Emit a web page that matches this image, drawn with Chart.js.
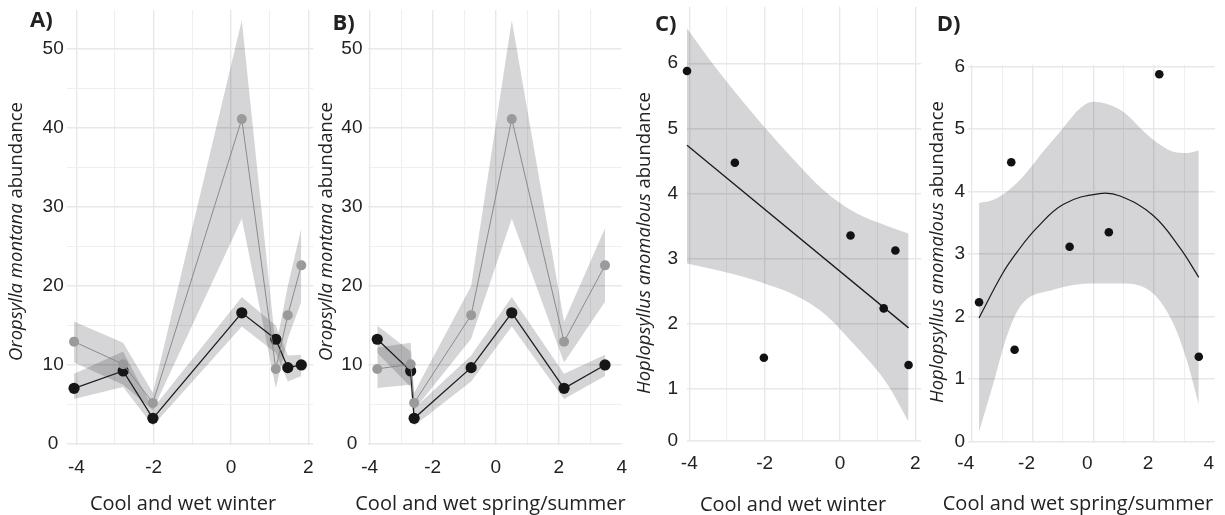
<!DOCTYPE html>
<html>
<head>
<meta charset="utf-8">
<script src="https://cdn.jsdelivr.net/npm/chart.js@4.4.0/dist/chart.umd.min.js"></script>
<style>
html, body { margin: 0; padding: 0; background: #ffffff; }
#wrap { position: relative; width: 1225px; height: 515px; overflow: hidden; background: #ffffff; }
#wrap canvas { position: absolute; left: 0; top: 0; }
</style>
</head>
<body>
<div id="wrap">
  <canvas id="chartA" width="1225" height="515"></canvas>
  <canvas id="chartB" width="1225" height="515"></canvas>
  <canvas id="chartC" width="1225" height="515"></canvas>
  <canvas id="chartD" width="1225" height="515"></canvas>
</div>
<script>
// ---------- data (one entry per site) ----------
const winterX = [-4.06, -2.79, -2.02, 0.28, 1.16, 1.47, 1.82];
const springX = [2.17, -2.70, -2.59, 0.51, -3.76, -0.78, 3.47];

const darkY  = [7.05, 9.24, 3.25, 16.6, 13.25, 9.66, 10.0];
const darkLo = [5.7, 7.2, 2.3, 14.85, 11.5, 7.9, 8.6];
const darkHi = [8.9, 11.7, 4.5, 18.6, 15.0, 11.2, 11.3];

const lightY  = [12.95, 10.1, 5.2, 41.1, 9.5, 16.3, 22.6];
const lightLo = [10.3, 7.5, 4.3, 28.5, 7.1, 13.3, 18.0];
const lightHi = [15.5, 12.8, 6.5, 53.6, 12.2, 20.0, 27.3];

const hoploY = [5.88, 4.47, 1.47, 3.35, 2.23, 3.12, 1.36];

// panel C fitted line and confidence band
const cLineX = [-4.06, 1.82];
const cLineY = [4.74, 1.93];
const cBandX  = [-4.06, -3.28, -2.30, -1.90, -1.33, -0.44, 0.35, 1.24, 1.82];
const cBandHi = [6.54, 5.92, 5.22, 4.95, 4.58, 4.05, 3.72, 3.50, 3.38];
const cBandLo = [2.92, 2.82, 2.67, 2.59, 2.47, 2.16, 1.69, 1.08, 0.49];

// panel D fitted curve and confidence band
const dLineX = [-3.76, -3.0, -2.5, -1.86, -0.98, 0.2, 0.88, 1.97, 2.85, 3.47];
const dLineY = [1.98, 2.68, 3.04, 3.42, 3.80, 3.97, 3.93, 3.62, 3.10, 2.63];
const dBandX  = [-3.76, -3.29, -2.85, -2.41, -1.32, 0, 0.88, 1.97, 2.63, 3.07, 3.47];
const dBandHi = [3.82, 3.87, 4.00, 4.19, 4.83, 5.44, 5.31, 4.83, 4.64, 4.62, 4.66];
const dBandLo = [0.16, 0.93, 1.68, 2.16, 2.43, 2.53, 2.53, 2.37, 1.89, 1.31, 0.59];

// ---------- ticks ----------
const oroYTickValues = [0, 10, 20, 30, 40, 50];
const oroYTickLabels = ['0', '10', '20', '30', '40', '50'];
const oroYMinorValues = [5, 15, 25, 35, 45];

const winterTickValues = [-4, -2, 0, 2];
const winterTickLabels = ['-4', '-2', '0', '2'];
const winterMinorValues = [-3, -1, 1];

const springTickValues = [-4, -2, 0, 2, 4];
const springTickLabels = ['-4', '-2', '0', '2', '4'];
const springMinorValues = [-3, -1, 1, 3];

// panel C prints its "0" label at the lower edge of the panel
const cYTickValues = [0.19, 1, 2, 3, 4, 5, 6];
const dYTickValues = [0, 1, 2, 3, 4, 5, 6];
const hoploYTickLabels = ['0', '1', '2', '3', '4', '5', '6'];

// ---------- helpers ----------
const TICK_FONT = { family: '"Liberation Sans", Arial, sans-serif', size: 19 };
const TEXT_COLOR = '#222222';
const BAND = 'rgba(0,0,10,0.165)';

function pts(xs, ys) {
  return xs.map((x, i) => ({ x: x, y: ys[i] })).sort((a, b) => a.x - b.x);
}

function makeScale(o) {
  const all = o.values.concat(o.minor || []).sort((a, b) => a - b);
  return {
    type: 'linear',
    min: o.min,
    max: o.max,
    afterBuildTicks: s => { s.ticks = all.map(v => ({ value: v })); },
    afterFit: s => {
      if (o.axis === 'x') { s.height = o.size; s.paddingLeft = 0; s.paddingRight = 0; }
      else { s.width = o.size; s.paddingTop = 0; s.paddingBottom = 0; }
    },
    grid: {
      drawTicks: false,
      color: c => {
        const v = c.tick ? c.tick.value : null;
        if (o.hide && o.hide.indexOf(v) >= 0) return 'rgba(0,0,0,0)';
        return o.values.indexOf(v) >= 0 ? '#e8e8e8' : '#efefef';
      },
      lineWidth: c => {
        const v = c.tick ? c.tick.value : null;
        return o.values.indexOf(v) >= 0 ? 1.4 : 1.1;
      }
    },
    border: { display: false },
    ticks: {
      autoSkip: false,
      maxRotation: 0,
      minRotation: 0,
      padding: o.padding,
      color: TEXT_COLOR,
      font: TICK_FONT,
      crossAlign: o.axis === 'y' ? 'center' : 'near',
      labelOffset: o.labelOffset || 0,
      callback: v => {
        const i = o.values.indexOf(v);
        return i >= 0 ? o.labels[i] : '';
      }
    }
  };
}

function lineSet(data, color, lineColor, lineWidth, radius, order, showLine, smooth) {
  return {
    data: data,
    showLine: showLine,
    borderColor: lineColor,
    borderWidth: lineWidth,
    backgroundColor: color,
    pointRadius: radius,
    pointBackgroundColor: color,
    pointBorderColor: color,
    pointBorderWidth: 0,
    fill: false,
    tension: smooth ? 0.4 : 0,
    order: order,
    clip: false
  };
}

function bandSets(upper, lower, order, smooth) {
  const base = {
    showLine: true,
    borderWidth: 0,
    borderColor: 'rgba(0,0,0,0)',
    backgroundColor: BAND,
    pointRadius: 0,
    tension: 0,
    order: order
  };
  if (smooth) base.cubicInterpolationMode = 'monotone';
  return [
    Object.assign({}, base, { data: upper, fill: '+1' }),
    Object.assign({}, base, { data: lower, fill: false })
  ];
}

const panelText = {
  id: 'panelText',
  afterDraw(chart, args, o) {
    const ctx = chart.ctx;
    ctx.save();
    ctx.fillStyle = TEXT_COLOR;
    ctx.font = 'bold 22px "Open Sans", sans-serif';
    ctx.textAlign = 'left';
    ctx.textBaseline = 'alphabetic';
    ctx.fillText(o.label, o.labelX, o.labelY);

    ctx.font = '20px "Open Sans", sans-serif';
    ctx.textAlign = 'center';
    ctx.fillText(o.xTitle, o.xTitleX, o.xTitleY);

    ctx.translate(o.yTitleX, o.yTitleY);
    ctx.rotate(-Math.PI / 2);
    ctx.textAlign = 'left';
    ctx.textBaseline = 'middle';
    const fonts = o.yTitle.map(p => (p.italic ? 'italic ' : '') + '18.5px "Open Sans", sans-serif');
    let total = 0;
    o.yTitle.forEach((p, i) => { ctx.font = fonts[i]; total += ctx.measureText(p.text).width; });
    let x = -total / 2;
    o.yTitle.forEach((p, i) => {
      ctx.font = fonts[i];
      ctx.fillText(p.text, x, 0);
      x += ctx.measureText(p.text).width;
    });
    ctx.restore();
  }
};

function makeChart(id, area, yW, datasets, xScale, yScale, text) {
  xScale.size = 515 - area.bottom;
  yScale.size = yW;
  return new Chart(document.getElementById(id), {
    type: 'line',
    data: { datasets: datasets },
    options: {
      responsive: false,
      animation: false,
      devicePixelRatio: 1,
      events: [],
      layout: { padding: { left: area.left - yW, right: 1225 - area.right, top: area.top, bottom: 0 } },
      scales: { x: makeScale(xScale), y: makeScale(yScale) },
      plugins: {
        legend: { display: false },
        tooltip: { enabled: false },
        title: { display: false },
        panelText: text
      }
    },
    plugins: [panelText]
  });
}

function oropsyllaSets(xs) {
  return [
    lineSet(pts(xs, lightY), '#9a9a9a', '#8a8a8a', 1, 5, 0, true, false),
    lineSet(pts(xs, darkY), '#161616', '#1e1e1e', 1.3, 5.6, 1, true, false)
  ].concat(bandSets(pts(xs, lightHi), pts(xs, lightLo), 2, false))
   .concat(bandSets(pts(xs, darkHi), pts(xs, darkLo), 3, false));
}

const oroTitle = [{ text: 'Oropsylla montana', italic: true }, { text: ' abundance', italic: false }];
const hoploTitle = [{ text: 'Hoplopsyllus anomalous', italic: true }, { text: ' abundance', italic: false }];

function draw() {
  // A
  makeChart('chartA', { left: 66.7, right: 313.3, top: 10, bottom: 445.2 }, 34,
    oropsyllaSets(winterX),
    { axis: 'x', min: -4.25, max: 2.13, values: winterTickValues, labels: winterTickLabels, minor: winterMinorValues, padding: 11 },
    { axis: 'y', min: -0.15, max: 54.9, values: oroYTickValues, labels: oroYTickLabels, minor: oroYMinorValues, padding: 3 },
    { label: 'A)', labelX: 30, labelY: 27, xTitle: 'Cool and wet winter', xTitleX: 183, xTitleY: 510,
      yTitle: oroTitle, yTitleX: 17, yTitleY: 231.5 });

  // B
  makeChart('chartB', { left: 367.5, right: 621.7, top: 10, bottom: 445.2 }, 34,
    oropsyllaSets(springX),
    { axis: 'x', min: -4.07, max: 4, values: springTickValues, labels: springTickLabels, minor: springMinorValues, padding: 11, hide: [4] },
    { axis: 'y', min: -0.15, max: 54.9, values: oroYTickValues, labels: oroYTickLabels, minor: oroYMinorValues, padding: 5 },
    { label: 'B)', labelX: 332.5, labelY: 30, xTitle: 'Cool and wet spring/summer', xTitleX: 490.5, xTitleY: 510,
      yTitle: oroTitle, yTitleX: 327, yTitleY: 231.5 });

  // C
  makeChart('chartC', { left: 687, right: 921, top: 6.7, bottom: 441 }, 30,
    [
      lineSet(pts(winterX, hoploY), '#111111', '#111111', 0, 4.3, 0, false, false),
      lineSet(pts(cLineX, cLineY), '#1a1a1a', '#1a1a1a', 1.3, 0, 1, true, false)
    ].concat(bandSets(pts(cBandX, cBandHi), pts(cBandX, cBandLo), 2, true)),
    { axis: 'x', min: -4.06, max: 2.15, values: winterTickValues, labels: winterTickLabels, minor: winterMinorValues, padding: 11 },
    { axis: 'y', min: 0.19, max: 6.87, values: cYTickValues, labels: hoploYTickLabels, minor: [], padding: 9 },
    { label: 'C)', labelX: 655, labelY: 30.5, xTitle: 'Cool and wet winter', xTitleX: 793, xTitleY: 511,
      yTitle: hoploTitle, yTitleX: 645, yTitleY: 243 });

  // D
  makeChart('chartD', { left: 968.1, right: 1214.9, top: 64.8, bottom: 441.7 }, 22,
    [
      lineSet(pts(springX, hoploY), '#111111', '#111111', 0, 4.3, 0, false, false),
      lineSet(pts(dLineX, dLineY), '#1a1a1a', '#1a1a1a', 1.2, 0, 1, true, true)
    ].concat(bandSets(pts(dBandX, dBandHi), pts(dBandX, dBandLo), 2, true)),
    { axis: 'x', min: -4.12, max: 4, values: springTickValues, labels: springTickLabels, minor: springMinorValues, padding: 11, hide: [4], labelOffset: -6 },
    { axis: 'y', min: 0, max: 6.03, values: dYTickValues, labels: hoploYTickLabels, minor: [], padding: 3 },
    { label: 'D)', labelX: 936.7, labelY: 31, xTitle: 'Cool and wet spring/summer', xTitleX: 1078, xTitleY: 510,
      yTitle: hoploTitle, yTitleX: 938, yTitleY: 252 });
}

const fontLoads = [
  '20px "Open Sans"', 'italic 18.5px "Open Sans"', 'bold 22px "Open Sans"', '19px "Liberation Sans"'
].map(f => document.fonts.load(f));
Promise.all(fontLoads).then(draw, draw);
</script>
</body>
</html>
